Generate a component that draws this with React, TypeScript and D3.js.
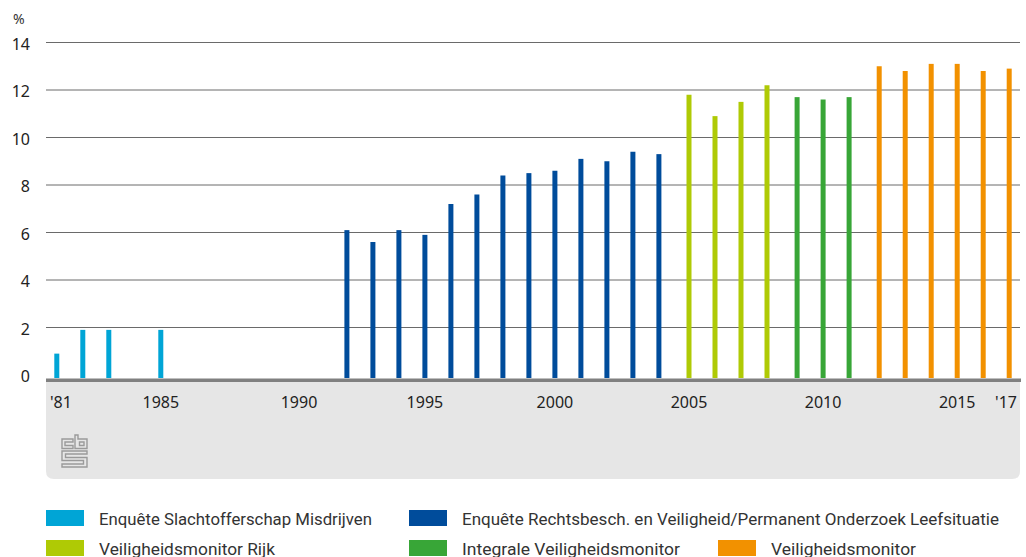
import React, { useRef, useEffect } from 'react'
import * as d3 from 'd3'

// Years on the category axis
const years = d3.range(1981, 2018)

// Series (survey) names and colours
const seriesNames = [
  'Enquête Slachtofferschap Misdrijven',
  'Enquête Rechtsbesch. en Veiligheid/Permanent Onderzoek Leefsituatie',
  'Veiligheidsmonitor Rijk',
  'Integrale Veiligheidsmonitor',
  'Veiligheidsmonitor',
]
const seriesColors = ['#00a5d6', '#004c9b', '#afca05', '#38a637', '#f29100']

// Values per series: [year, %]
const esmValues: [number, number][] = [[1981, 0.9], [1982, 1.9], [1983, 1.9], [1985, 1.9]]
const ervValues: [number, number][] = [
  [1992, 6.1], [1993, 5.6], [1994, 6.1], [1995, 5.9], [1996, 7.2], [1997, 7.6],
  [1998, 8.4], [1999, 8.5], [2000, 8.6], [2001, 9.1], [2002, 9.0], [2003, 9.4], [2004, 9.3],
]
const vmrValues: [number, number][] = [[2005, 11.8], [2006, 10.9], [2007, 11.5], [2008, 12.2]]
const ivmValues: [number, number][] = [[2009, 11.7], [2010, 11.6], [2011, 11.7]]
const vmValues: [number, number][] = [
  [2012, 13.0], [2013, 12.8], [2014, 13.1], [2015, 13.1], [2016, 12.8], [2017, 12.9],
]
const seriesValues = [esmValues, ervValues, vmrValues, ivmValues, vmValues]

// Axis ticks
const yTicks = [0, 2, 4, 6, 8, 10, 12, 14]
const xTickYears = [1981, 1985, 1990, 1995, 2000, 2005, 2010, 2015, 2017]
const xTickLabels = ["'81", '1985', '1990', '1995', '2000', '2005', '2010', '2015', "'17"]

// Legend layout: [series index, column, row]
const legendItems: [number, number, number][] = [[0, 0, 0], [1, 1, 0], [2, 0, 1], [3, 1, 1], [4, 2, 1]]
const legendWidths = [273, 537, 176, 218, 145]

export default function App() {
  const svgRef = useRef<SVGSVGElement>(null)
  const width = 1026
  const height = 557

  useEffect(() => {
    if (!svgRef.current) return
    const svg = d3.select(svgRef.current)
    svg.selectAll('*').remove()

    const plotLeft = 46
    const plotRight = 1020
    const baseY = 378

    const x = d3.scaleBand<number>().domain(years).range([52, 1014]).padding(0)
    const inner = d3.scaleBand<number>().domain(d3.range(5)).range([0, x.bandwidth()]).paddingOuter(0.67)
    const y = d3.scaleLinear().domain([0, 14]).range([375, 42.5])

    const barCenter = (year: number, s: number) => (x(year) as number) + (inner(s) as number) + inner.bandwidth() / 2

    // grey band under the axis
    const bTop = 382, bBot = 479, r = 8
    svg.append('path')
      .attr('d', `M${plotLeft},${bTop} H${plotRight} V${bBot - r} Q${plotRight},${bBot} ${plotRight - r},${bBot} H${plotLeft + r} Q${plotLeft},${bBot} ${plotLeft},${bBot - r} Z`)
      .attr('fill', '#e6e6e6')

    // gridlines
    svg.append('g')
      .selectAll('line')
      .data(yTicks.filter(d => d > 0))
      .join('line')
      .attr('x1', plotLeft)
      .attr('x2', plotRight)
      .attr('y1', d => y(d))
      .attr('y2', d => y(d))
      .attr('stroke', '#6a6a6a')
      .attr('stroke-width', 1)

    // y labels
    svg.append('g')
      .selectAll('text')
      .data(yTicks)
      .join('text')
      .attr('x', 30)
      .attr('y', d => y(d) + 1)
      .attr('text-anchor', 'end')
      .attr('dominant-baseline', 'central')
      .attr('font-family', 'Noto Sans')
      .attr('font-size', 16)
      .attr('fill', '#222')
      .text(d => d)

    svg.append('text')
      .attr('x', 13)
      .attr('y', 18)
      .attr('dominant-baseline', 'central')
      .attr('font-family', 'Noto Sans')
      .attr('font-size', 14)
      .attr('fill', '#333')
      .text('%')

    // bars
    seriesValues.forEach((vals, s) => {
      svg.append('g')
        .selectAll('rect')
        .data(vals)
        .join('rect')
        .attr('x', d => barCenter(d[0], s) - 2.5)
        .attr('width', 5)
        .attr('y', d => y(d[1]))
        .attr('height', d => baseY - y(d[1]))
        .attr('fill', seriesColors[s])
    })

    // axis line
    svg.append('rect')
      .attr('x', plotLeft)
      .attr('y', 378.5)
      .attr('width', plotRight - plotLeft + 1)
      .attr('height', 3.5)
      .attr('fill', '#808080')

    // x labels, placed at the bar of that year (or category centre) and kept inside the plot
    const labelX = (year: number) => {
      const s = seriesValues.findIndex(v => v.some(p => p[0] === year))
      return s >= 0 ? barCenter(year, s) : (x(year) as number) + x.bandwidth() / 2
    }
    svg.append('g')
      .selectAll('text')
      .data(xTickYears)
      .join('text')
      .attr('x', d => labelX(d))
      .attr('y', 402)
      .attr('text-anchor', 'middle')
      .attr('dominant-baseline', 'central')
      .attr('font-family', 'Noto Sans')
      .attr('font-size', 16)
      .attr('fill', '#222')
      .text((d, i) => xTickLabels[i])
      .each(function () {
        const el = this as SVGTextElement
        const w = el.getComputedTextLength()
        const cx = +el.getAttribute('x')!
        const left = Math.max(50, Math.min(cx - w / 2, 1017 - w))
        el.setAttribute('x', String(left + w / 2))
      })

    // cbs logo
    const logo = svg.append('g')
      .attr('fill', 'none')
      .attr('stroke', '#9a9a9a')
      .attr('stroke-width', 1.4)
    logo.append('path').attr('d', 'M73,439 H62 V448.5 H73 V445.5 H65 V442 H73 Z')
    logo.append('path').attr('d', 'M75,435 V448.5 H87 V439 H78 V435 Z M79.5,442 H84 V445.5 H79.5 Z')
    logo.append('path').attr('d', 'M62,451 H87 V454 H65.5 V457.5 H87 V467 H62 V464 H83.5 V460.5 H62 Z')

    // legend
    const colX = [46, 409, 718]
    const rowY = [510, 540]
    const legend = svg.append('g')
    legendItems.forEach(([s, c, rIdx]) => {
      legend.append('rect')
        .attr('x', colX[c])
        .attr('y', rowY[rIdx])
        .attr('width', 38)
        .attr('height', 16)
        .attr('fill', seriesColors[s])
      legend.append('text')
        .attr('x', colX[c] + 53)
        .attr('y', rowY[rIdx] + 9)
        .attr('dominant-baseline', 'central')
        .attr('font-family', 'Roboto')
        .attr('font-size', 17)
        .attr('fill', '#333')
        .attr('textLength', legendWidths[s])
        .attr('lengthAdjust', 'spacingAndGlyphs')
        .text(seriesNames[s])
    })
  }, [])

  return (
    <svg
      ref={svgRef}
      width={width}
      height={height}
      style={{ position: 'absolute', left: 0, top: 0, background: '#fff' }}
    />
  )
}
